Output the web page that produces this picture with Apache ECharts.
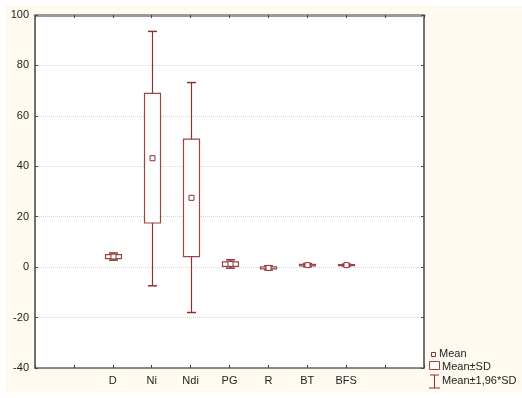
<!DOCTYPE html>
<html>
<head>
<meta charset="utf-8">
<script src="https://cdn.jsdelivr.net/npm/echarts@6/dist/echarts.min.js"></script>
<style>
  html, body { margin: 0; padding: 0; background: #fff; }
  #chart { width: 522px; height: 398px; }
</style>
</head>
<body>
<div id="chart"></div>
<script>
// 数据
var categories = ['D', 'Ni', 'Ndi', 'PG', 'R', 'BT', 'BFS'];
var means     = [4.2, 43.2, 27.5, 1.3, -0.3, 0.8, 0.8];
var sdLow     = [3.4, 17.5, 4.2, 0.3, -0.7, 0.5, 0.6];
var sdHigh    = [5.0, 68.9, 50.8, 2.1, 0.1, 1.1, 1.0];
var ciLow     = [2.8, -7.4, -18.0, -0.4, -1.1, 0.2, 0.4];
var ciHigh    = [5.6, 93.5, 73.2, 2.9, 0.5, 1.4, 1.2];
var yTicks    = [-40, -20, 0, 20, 40, 60, 80, 100];

var red = '#8c3232';
var font = 'Liberation Sans, Arial, sans-serif';

var data = [];
for (var i = 0; i < categories.length; i++) {
    // x slot = i + 2, first two slots are empty
    data.push([i + 2, means[i], sdLow[i], sdHigh[i], ciLow[i], ciHigh[i]]);
}

function renderItem(params, api) {
    var x = api.value(0);
    var m = api.coord([x, api.value(1)]);
    var bl = api.coord([x, api.value(2)]);
    var bh = api.coord([x, api.value(3)]);
    var wl = api.coord([x, api.value(4)]);
    var wh = api.coord([x, api.value(5)]);
    var cx = Math.round(m[0]) + 0.5;
    var bw = 16, cw = 9, ms = 5;
    return {
        type: 'group',
        children: [
            { type: 'line', shape: { x1: cx, y1: wh[1], x2: cx, y2: wl[1] }, style: { stroke: red, lineWidth: 1.2 } },
            { type: 'line', shape: { x1: cx - cw / 2, y1: wh[1], x2: cx + cw / 2, y2: wh[1] }, style: { stroke: red, lineWidth: 1.5 } },
            { type: 'line', shape: { x1: cx - cw / 2, y1: wl[1], x2: cx + cw / 2, y2: wl[1] }, style: { stroke: red, lineWidth: 1.5 } },
            { type: 'rect', shape: { x: cx - bw / 2, y: bh[1], width: bw, height: Math.max(bl[1] - bh[1], 1) }, style: { fill: '#fff', stroke: '#9a4444', lineWidth: 1.2 } },
            { type: 'rect', shape: { x: cx - ms / 2, y: m[1] - ms / 2, width: ms, height: ms }, style: { fill: '#fff', stroke: red, lineWidth: 1 } }
        ]
    };
}

var myChart = echarts.init(document.getElementById('chart'));
var option = {
    backgroundColor: '#fff',
    animation: false,
    grid: { left: 35, right: 98, top: 15, bottom: 30 },
    graphic: [
        { type: 'rect', z: -10, silent: true, shape: { x: 5, y: 5, width: 517, height: 387 }, style: { fill: '#fffaf0' } },
        { type: 'rect', z: -9, silent: true, shape: { x: 35, y: 15, width: 389, height: 353 }, style: { fill: '#fff' } },
        // legend
        { type: 'rect', shape: { x: 431.5, y: 352.5, width: 4, height: 4 }, style: { fill: '#fff', stroke: red, lineWidth: 1 } },
        { type: 'text', left: 439, top: 348, style: { text: 'Mean', font: '11px ' + font, fill: '#222' } },
        { type: 'rect', shape: { x: 429.5, y: 361.5, width: 10, height: 8 }, style: { fill: '#fff', stroke: '#9a4444', lineWidth: 1 } },
        { type: 'text', left: 442, top: 361, style: { text: 'Mean±SD', font: '11px ' + font, fill: '#222' } },
        { type: 'line', shape: { x1: 434.5, y1: 375, x2: 434.5, y2: 388 }, style: { stroke: red, lineWidth: 1 } },
        { type: 'line', shape: { x1: 430, y1: 375, x2: 439, y2: 375 }, style: { stroke: red, lineWidth: 1 } },
        { type: 'line', shape: { x1: 429, y1: 388, x2: 440, y2: 388 }, style: { stroke: red, lineWidth: 1 } },
        { type: 'text', left: 442, top: 375, style: { text: 'Mean±1,96*SD', font: '11px ' + font, fill: '#222' } }
    ],
    xAxis: [
        {
            type: 'value', min: 0, max: 10, interval: 1, position: 'bottom',
            axisLine: { onZero: false, lineStyle: { color: '#666', width: 1.5 } },
            axisTick: { inside: true, length: 3, lineStyle: { color: '#444' } },
            axisLabel: {
                color: '#222', fontSize: 11, fontFamily: font, margin: 7,
                formatter: function (v) { return categories[v - 2] || ''; }
            },
            splitLine: { show: false }
        },
        {
            type: 'value', min: 0, max: 10, interval: 1, position: 'top',
            axisLine: { onZero: false, lineStyle: { color: '#999', width: 3 } },
            axisTick: { inside: true, length: 3, lineStyle: { color: '#444' } },
            axisLabel: { show: false },
            splitLine: { show: false }
        }
    ],
    yAxis: [
        {
            type: 'value', min: -40, max: 100, interval: 20, position: 'left',
            axisLine: { show: true, onZero: false, lineStyle: { color: '#444', width: 1.5 } },
            axisTick: { show: true, inside: true, length: 3, lineStyle: { color: '#444' } },
            axisLabel: {
                color: '#222', fontSize: 11, fontFamily: font, margin: 6,
                formatter: function (v) { return yTicks.indexOf(v) >= 0 ? String(v) : ''; }
            },
            splitLine: { show: true, lineStyle: { color: '#d4d4d4', type: [1, 1], width: 1 } }
        },
        {
            type: 'value', min: -40, max: 100, interval: 20, position: 'right',
            axisLine: { show: true, onZero: false, lineStyle: { color: '#444', width: 1.5 } },
            axisTick: { show: true, inside: true, length: 3, lineStyle: { color: '#444' } },
            axisLabel: { show: false },
            splitLine: { show: false }
        }
    ],
    series: [{
        type: 'custom',
        renderItem: renderItem,
        encode: { x: 0, y: [1, 2, 3, 4, 5] },
        data: data,
        clip: false
    }]
};
myChart.setOption(option);
</script>
</body>
</html>
